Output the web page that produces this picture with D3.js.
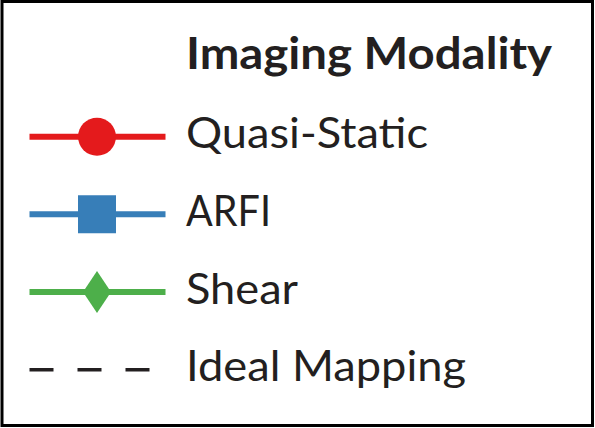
<!DOCTYPE html>
<html><head><meta charset="utf-8">
<script src="https://cdn.jsdelivr.net/npm/d3@7"></script>
<style>html,body{margin:0;padding:0;background:#fff;}</style>
</head><body>
<svg id="c" width="595" height="428"></svg>
<script>
const legendTitle = "Imaging Modality";
const labels = ["Quasi-Static", "ARFI", "Shear", "Ideal Mapping"];
const colors = ["#e41a1c", "#377eb8", "#4daf4a", "#231f20"];
const symbols = ["circle", "square", "diamond", "none"];
const dashed = [false, false, false, true];

const svg = d3.select("#c");
const W = 595, H = 428;
svg.append("rect").attr("x", 2).attr("y", 1.5).attr("width", W - 4.5).attr("height", H - 4)
  .attr("fill", "#fff").attr("stroke", "#000").attr("stroke-width", 3);

const y = d3.scalePoint().domain(labels).range([136.7, 369.7]);
const xLine = d3.scaleLinear().domain([0, 1]).range([29.5, 165.5]);
const xSym = xLine(0.5) - 0.5;

const diamondType = { draw(ctx, size) { const h = 21, w = 14; ctx.moveTo(0, -h); ctx.lineTo(w, 0); ctx.lineTo(0, h); ctx.lineTo(-w, 0); ctx.closePath(); } };
const squareType = { draw(ctx, size) { const s = 19; ctx.rect(-s, -s, 2 * s, 2 * s); } };
const symType = { circle: d3.symbolCircle, square: squareType, diamond: diamondType };
const symSize = { circle: Math.PI * 19 * 19, square: 1444, diamond: 588 };

const font = "Lato, 'Open Sans', sans-serif";
svg.append("text").attr("x", 186).attr("y", 68.5).attr("font-family", font)
  .attr("font-weight", 700).attr("font-size", 44).attr("fill", "#231f20")
  .attr("textLength", 366).attr("lengthAdjust", "spacingAndGlyphs").text(legendTitle);

const g = svg.selectAll("g.item").data(labels).join("g").attr("class", "item");
g.append("line").attr("x1", (d, i) => dashed[i] ? xLine(0) : xLine(0)).attr("x2", (d, i) => dashed[i] ? 149.5 : xLine(1))
  .attr("y1", d => y(d)).attr("y2", d => y(d))
  .attr("stroke", (d, i) => colors[i]).attr("stroke-width", (d, i) => dashed[i] ? 3.5 : 6)
  .attr("stroke-dasharray", (d, i) => dashed[i] ? "24,24" : null);
g.filter((d, i) => symbols[i] !== "none").append("path")
  .attr("transform", d => `translate(${xSym},${y(d)})`)
  .attr("d", (d, i) => d3.symbol().type(symType[symbols[i]]).size(symSize[symbols[i]])())
  .attr("fill", (d, i) => colors[i]);
const textWidths = [242, 85, 112, 280];
g.append("text").attr("x", 186).attr("y", d => y(d) + 11.5)
  .attr("font-family", font).attr("font-size", 42).attr("fill", "#231f20")
  .attr("textLength", (d, i) => textWidths[i]).attr("lengthAdjust", "spacingAndGlyphs")
  .text(d => d);
</script>
</body></html>
